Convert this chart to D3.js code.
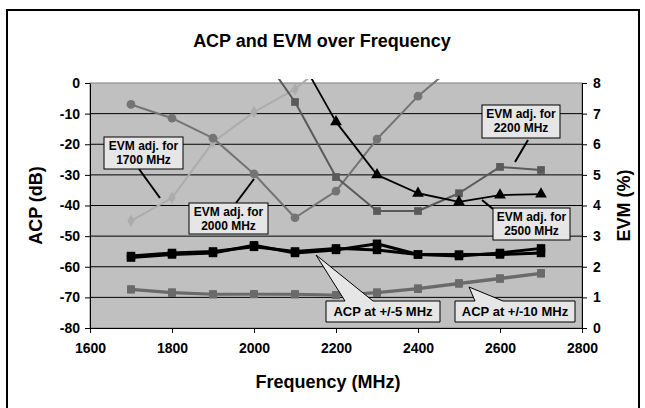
<!DOCTYPE html>
<html>
<head>
<meta charset="utf-8">
<script src="https://cdn.jsdelivr.net/npm/d3@7"></script>
<style>
  body { margin: 0; background: #fff; }
  text { font-family: "Liberation Sans", Arial, sans-serif; font-weight: bold; }
</style>
</head>
<body>
<div id="chart"></div>
<script>
// Data
var freqs = [1700, 1800, 1900, 2000, 2100, 2200, 2300, 2400, 2500, 2600, 2700];

// ACP (dB), left axis
var acp5a = [-57, -56, -55.5, -53, -55.5, -54.5, -52.5, -56, -56.5, -55.5, -54];
var acp5b = [-56.5, -55.5, -55, -53.5, -55, -54, -54.5, -56, -56, -56, -55.5];
var acp10a = [-67.3, -68.3, -68.9, -68.9, -68.9, -69.2, -68.3, -67, -65.3, -63.7, -62];
var acp10b = [-67.5, -68.6, -69.1, -69, -69.1, -69.3, -68.6, -67.3, -65.6, -64, -62.3];

// EVM (%), right axis
var evm1700Freq = [1700, 1800, 1900, 2000, 2100, 2200];
var evm1700 = [3.5, 4.25, 6.07, 7.05, 7.8, 8.9];
var evm2000Freq = [1700, 1800, 1900, 2000, 2100, 2200, 2300, 2400, 2500];
var evm2000 = [7.3, 6.85, 6.2, 5.03, 3.6, 4.47, 6.17, 7.57, 8.7];
var evm2200Freq = [2000, 2100, 2200, 2300, 2400, 2500, 2600, 2700];
var evm2200 = [9.3, 7.38, 4.93, 3.82, 3.82, 4.4, 5.26, 5.16];
var evm2500Freq = [2100, 2200, 2300, 2400, 2500, 2600, 2700];
var evm2500 = [9.1, 6.73, 5.0, 4.4, 4.12, 4.34, 4.37];

var xTicks = [1600, 1800, 2000, 2200, 2400, 2600, 2800];
var acpTicks = [0, -10, -20, -30, -40, -50, -60, -70, -80];
var evmTicks = [0, 1, 2, 3, 4, 5, 6, 7, 8];

var svgWidth = 645;
var svgHeight = 408;

var plot = { left: 90, right: 582, top: 83, bottom: 328 };

var svg = d3.select('#chart')
  .append('svg')
  .attr('width', svgWidth)
  .attr('height', svgHeight);

// outer frame (bottom edge runs past the picture)
svg.append('rect')
  .attr('x', 7).attr('y', 10)
  .attr('width', 632).attr('height', 404)
  .attr('fill', '#fff')
  .attr('stroke', '#000')
  .attr('stroke-width', 2);

var x = d3.scaleLinear().domain([1600, 2800]).range([plot.left, plot.right]);
var yL = d3.scaleLinear().domain([-80, 0]).range([plot.bottom, plot.top]);
var yR = d3.scaleLinear().domain([0, 8]).range([plot.bottom, plot.top]);

// plot background
svg.append('rect')
  .attr('x', plot.left).attr('y', plot.top)
  .attr('width', plot.right - plot.left)
  .attr('height', plot.bottom - plot.top)
  .attr('fill', '#c0c0c0')
  .attr('stroke', '#808080')
  .attr('stroke-width', 1);

// gridlines
svg.append('g')
  .selectAll('line')
  .data(acpTicks.filter(d => d > -80 && d < 0))
  .enter()
  .append('line')
  .attr('x1', plot.left).attr('x2', plot.right)
  .attr('y1', d => yL(d)).attr('y2', d => yL(d))
  .attr('stroke', '#000')
  .attr('stroke-width', 1);

// axes
var plain = d => String(d);
var bottomAxis = d3.axisBottom(x).tickValues(xTicks).tickFormat(plain).tickSize(5).tickSizeOuter(0).tickPadding(10);
var leftAxis = d3.axisLeft(yL).tickValues(acpTicks).tickFormat(plain).tickSize(5).tickSizeOuter(0).tickPadding(5);
var rightAxis = d3.axisRight(yR).tickValues(evmTicks).tickFormat(plain).tickSize(5).tickSizeOuter(0).tickPadding(6);

svg.append('g')
  .attr('transform', `translate(0, ${plot.bottom})`)
  .call(bottomAxis);

svg.append('g')
  .attr('transform', `translate(${plot.left}, 0)`)
  .call(leftAxis);

svg.append('g')
  .attr('transform', `translate(${plot.right}, 0)`)
  .call(rightAxis);

svg.selectAll('.domain').attr('stroke', '#000');
svg.selectAll('.tick line').attr('stroke', '#000');
svg.selectAll('.tick text')
  .attr('font-size', '14px')
  .attr('font-family', '"Liberation Sans", Arial, sans-serif')
  .attr('font-weight', 'bold')
  .attr('fill', '#000');

// clip region for the series
svg.append('clipPath')
  .attr('id', 'plotClip')
  .append('rect')
  .attr('x', plot.left).attr('y', plot.top - 4)
  .attr('width', plot.right - plot.left)
  .attr('height', plot.bottom - plot.top + 4);

var series = svg.append('g').attr('clip-path', 'url(#plotClip)');

function drawSeries(xs, ys, yScale, color, width, marker, size) {
  var pts = xs.map((f, i) => [x(f), yScale(ys[i])]);
  series.append('path')
    .attr('d', d3.line()(pts))
    .attr('fill', 'none')
    .attr('stroke', color)
    .attr('stroke-width', width)
    .attr('stroke-linejoin', 'round');
  series.append('g')
    .selectAll('path')
    .data(pts)
    .enter()
    .append('path')
    .attr('d', d3.symbol().type(marker).size(size))
    .attr('transform', d => `translate(${d[0]}, ${d[1]})`)
    .attr('fill', color);
}

// ACP
drawSeries(freqs, acp10b, yL, '#6a6a6a', 2.5, d3.symbolSquare, 60);
drawSeries(freqs, acp10a, yL, '#6a6a6a', 2.5, d3.symbolSquare, 60);
drawSeries(freqs, acp5b, yL, '#000', 3, d3.symbolSquare, 72);
drawSeries(freqs, acp5a, yL, '#000', 3, d3.symbolSquare, 72);

// EVM
drawSeries(evm1700Freq, evm1700, yR, '#acacac', 2, d3.symbolDiamond, 45);
drawSeries(evm2000Freq, evm2000, yR, '#747474', 2, d3.symbolCircle, 60);
drawSeries(evm2200Freq, evm2200, yR, '#5a5a5a', 2, d3.symbolSquare, 60);
drawSeries(evm2500Freq, evm2500, yR, '#000', 1.8, d3.symbolTriangle, 60);

// callouts with leader lines
var callouts = [
  { lines: ['EVM adj. for', '1700 MHz'], x: 104, y: 137, w: 79, h: 32, lead: [[139, 169], [160, 198]] },
  { lines: ['EVM adj. for', '2000 MHz'], x: 189, y: 203, w: 79, h: 31, lead: [[236, 203], [254, 179]] },
  { lines: ['EVM adj. for', '2200 MHz'], x: 482, y: 105, w: 78, h: 33, lead: [[528, 140], [515, 162]] },
  { lines: ['EVM adj. for', '2500 MHz'], x: 493, y: 208, w: 77, h: 32, lead: [[493, 209], [482, 200]] }
];

var annot = svg.append('g');
callouts.forEach(function(c) {
  annot.append('path')
    .attr('d', d3.line()(c.lead))
    .attr('stroke', '#000')
    .attr('stroke-width', 2);
  annot.append('rect')
    .attr('x', c.x).attr('y', c.y)
    .attr('width', c.w).attr('height', c.h)
    .attr('fill', '#e6e6e6')
    .attr('stroke', '#000')
    .attr('stroke-width', 1);
  c.lines.forEach(function(t, i) {
    annot.append('text')
      .attr('x', c.x + c.w / 2)
      .attr('y', c.y + 13 + i * 14)
      .attr('text-anchor', 'middle')
      .attr('font-size', '12px')
      .text(t);
  });
});

// wedge callouts for ACP
var wedges = [
  { text: 'ACP at +/-5 MHz', x: 326, y: 301, w: 114, h: 21, tip: [316, 255], base: [345, 373] },
  { text: 'ACP at +/-10 MHz', x: 455, y: 301, w: 120, h: 21, tip: [469, 287], base: [475, 503] }
];
wedges.forEach(function(c) {
  var shape = [
    [c.x, c.y], [c.base[0], c.y], c.tip, [c.base[1], c.y],
    [c.x + c.w, c.y], [c.x + c.w, c.y + c.h], [c.x, c.y + c.h]
  ];
  annot.append('path')
    .attr('d', d3.line()(shape) + 'Z')
    .attr('fill', '#e6e6e6')
    .attr('stroke', '#000')
    .attr('stroke-width', 1);
  annot.append('text')
    .attr('x', c.x + c.w / 2)
    .attr('y', c.y + 15)
    .attr('text-anchor', 'middle')
    .attr('font-size', '13px')
    .text(c.text);
});

// titles
svg.append('text')
  .attr('x', 322).attr('y', 47)
  .attr('text-anchor', 'middle')
  .attr('font-size', '18px')
  .text('ACP and EVM over Frequency');

svg.append('text')
  .attr('x', 328).attr('y', 388)
  .attr('text-anchor', 'middle')
  .attr('font-size', '18px')
  .text('Frequency (MHz)');

svg.append('text')
  .attr('transform', `translate(42, ${(plot.top + plot.bottom) / 2}) rotate(-90)`)
  .attr('text-anchor', 'middle')
  .attr('font-size', '18px')
  .text('ACP (dB)');

svg.append('text')
  .attr('transform', `translate(630, ${(plot.top + plot.bottom) / 2}) rotate(-90)`)
  .attr('text-anchor', 'middle')
  .attr('font-size', '18px')
  .text('EVM (%)');
</script>
</body>
</html>
